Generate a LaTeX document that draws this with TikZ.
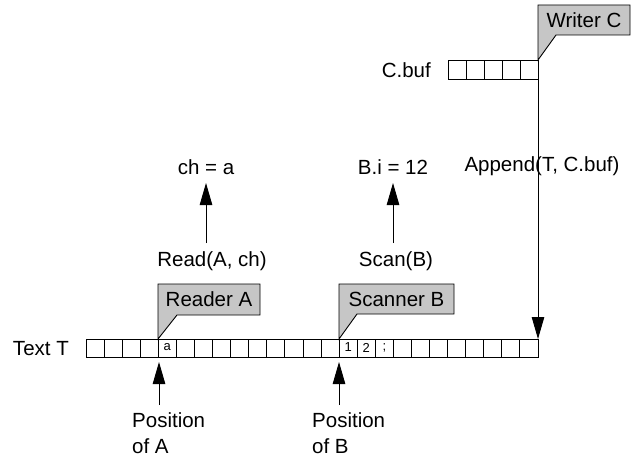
\documentclass[tikz,border=0pt]{standalone}
\usepackage{fontspec}
\setmainfont{Liberation Sans}
\usetikzlibrary{arrows.meta}
\tikzset{
  lbl/.style={inner sep=0pt, font=\fontsize{20.5}{26}\selectfont},
  small/.style={inner sep=0pt, font=\fontsize{13}{15}\selectfont},
  cellbox/.style={draw=black, line width=0.9pt},
  callout/.style={draw=black, line width=0.9pt, fill=gray!45},
  arr/.style={draw=black, line width=0.9pt, -{Triangle[length=22pt,width=12.5pt]}},
}
\begin{document}
\begin{tikzpicture}[x=1pt,y=-1pt]
\useasboundingbox (0,0) rectangle (634,460);
% Text T row
\foreach \i in {0,...,24} {
  \draw[cellbox] ({86+\i*18.08},339) rectangle ({86+(\i+1)*18.08},357);
}
\node[lbl, anchor=east] (textT) at (69,348.5) {Text T};
\node[small] (ca) at ({86+4.5*18.08},347.5) {a};
\node[small] (c1) at ({86+14.5*18.08},347.5) {1};
\node[small] (c2) at ({86+15.5*18.08},347.5) {2};
\node[small] (c3) at ({86+16.5*18.08},347.5) {;};
% C.buf
\foreach \i in {0,...,4} {
  \draw[cellbox] ({448+\i*18},60) rectangle ({448+(\i+1)*18},79);
}
\node[lbl, anchor=east] (cbuf) at (431,70) {C.buf};
% callouts
\draw[callout] (158,284) -- (260,284) -- (260,315) -- (177,315) -- (158,339) -- cycle;
\node[lbl] (readerA) at (209,299.5) {Reader A};
\draw[callout] (339,284) -- (454,284) -- (454,314) -- (357,314) -- (339,339) -- cycle;
\node[lbl] (scannerB) at (396.5,299) {Scanner B};
\draw[callout] (538,5) -- (630,5) -- (630,35) -- (556,35) -- (538,60) -- cycle;
\node[lbl] (writerC) at (584,20) {Writer C};
% upper texts
\node[lbl] (cha) at (206,167) {ch = a};
\node[lbl] (readop) at (212,261) {Read(A, ch)};
\node[lbl] (bi) at (393,167) {B.i = 12};
\node[lbl] (scanop) at (396,261) {Scan(B)};
\node[lbl] (append) at (542,166) {Append(T, C.buf)};
% arrow end points
\coordinate (rA0) at (206,243);
\coordinate (rA1) at (206,183);
\coordinate (sB0) at (393,243);
\coordinate (sB1) at (393,183);
\coordinate (wC0) at (538,79);
\coordinate (wC1) at (538,339);
\coordinate (pA0) at (159,405);
\coordinate (pA1) at (159,362);
\coordinate (pB0) at (339,405);
\coordinate (pB1) at (339,362);
\draw[arr] (rA0) -- (rA1);
\draw[arr] (sB0) -- (sB1);
\draw[arr] (wC0) -- (wC1);
\draw[arr] (pA0) -- (pA1);
\draw[arr] (pB0) -- (pB1);
% position labels
\node[lbl, anchor=north west, align=left] (posA) at (132,412) {Position\\of A};
\node[lbl, anchor=north west, align=left] (posB) at (312,412) {Position\\of B};
\end{tikzpicture}
\end{document}
